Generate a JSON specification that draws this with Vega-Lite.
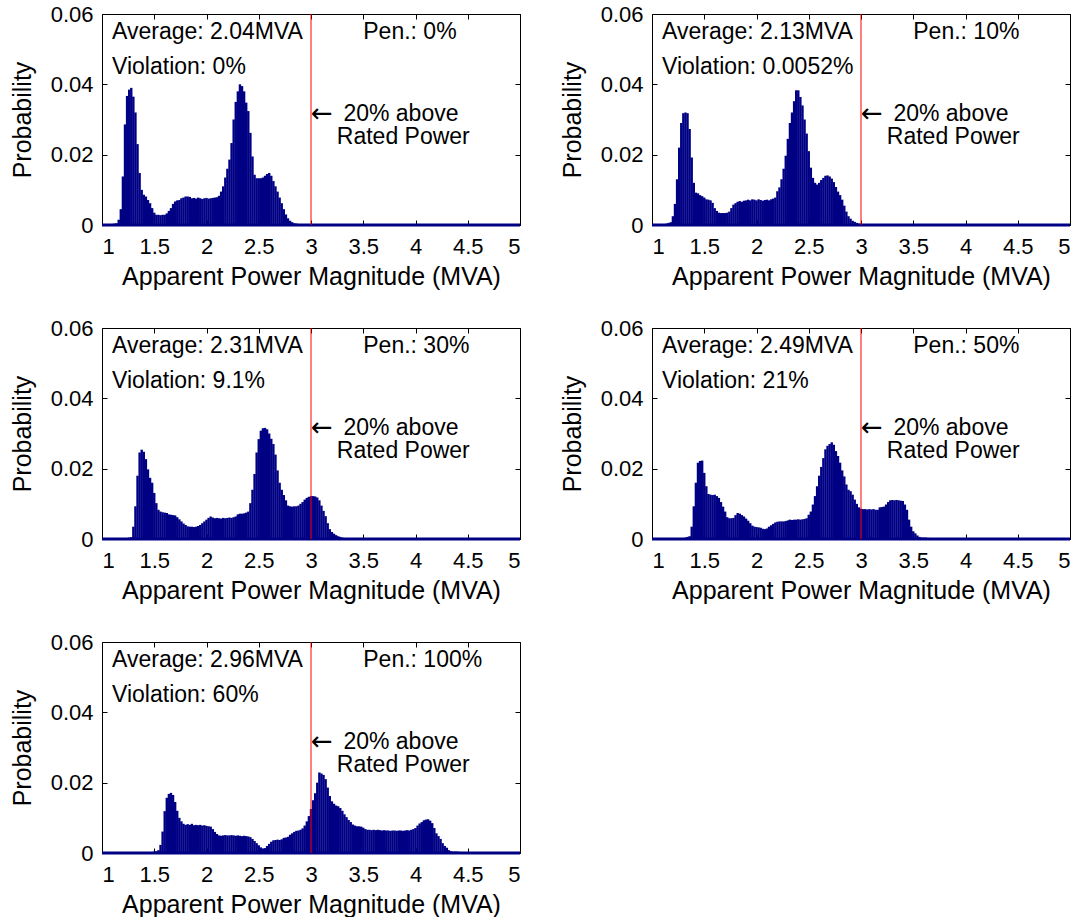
{
"$schema": "https://vega.github.io/schema/vega-lite/v6.json",
"background": "white",
"padding": {"left": 10, "top": 3, "right": 0, "bottom": 0},
"config": {
  "font": "Liberation Sans",
  "view": {"stroke": null},
  "axis": {"grid": false, "labelFontSize": 22, "titleFontSize": 25, "labelColor": "black", "titleColor": "black", "titleFontWeight": "normal", "domainColor": "black", "tickColor": "black", "labelFont": "Liberation Sans", "titleFont": "Liberation Sans"},
  "text": {"font": "Liberation Sans", "fontSize": 23, "color": "black"}
},
"datasets": {
"p0": [{"x":1.10,"p":0.0003},{"x":1.12,"p":0.0004},{"x":1.14,"p":0.0005},{"x":1.16,"p":0.0015},{"x":1.18,"p":0.0045},{"x":1.20,"p":0.0138},{"x":1.22,"p":0.0286},{"x":1.24,"p":0.0367},{"x":1.26,"p":0.0385},{"x":1.28,"p":0.0390},{"x":1.30,"p":0.0365},{"x":1.32,"p":0.0320},{"x":1.34,"p":0.0230},{"x":1.36,"p":0.0148},{"x":1.38,"p":0.0100},{"x":1.40,"p":0.0086},{"x":1.42,"p":0.0081},{"x":1.44,"p":0.0071},{"x":1.46,"p":0.0062},{"x":1.48,"p":0.0048},{"x":1.50,"p":0.0035},{"x":1.52,"p":0.0029},{"x":1.54,"p":0.0029},{"x":1.56,"p":0.0028},{"x":1.58,"p":0.0029},{"x":1.60,"p":0.0029},{"x":1.62,"p":0.0033},{"x":1.64,"p":0.0040},{"x":1.66,"p":0.0048},{"x":1.68,"p":0.0060},{"x":1.70,"p":0.0067},{"x":1.72,"p":0.0070},{"x":1.74,"p":0.0071},{"x":1.76,"p":0.0076},{"x":1.78,"p":0.0078},{"x":1.80,"p":0.0081},{"x":1.82,"p":0.0081},{"x":1.84,"p":0.0080},{"x":1.86,"p":0.0076},{"x":1.88,"p":0.0077},{"x":1.90,"p":0.0075},{"x":1.92,"p":0.0078},{"x":1.94,"p":0.0076},{"x":1.96,"p":0.0074},{"x":1.98,"p":0.0076},{"x":2.00,"p":0.0077},{"x":2.02,"p":0.0075},{"x":2.04,"p":0.0076},{"x":2.06,"p":0.0077},{"x":2.08,"p":0.0078},{"x":2.10,"p":0.0079},{"x":2.12,"p":0.0083},{"x":2.14,"p":0.0095},{"x":2.16,"p":0.0110},{"x":2.18,"p":0.0135},{"x":2.20,"p":0.0160},{"x":2.22,"p":0.0186},{"x":2.24,"p":0.0233},{"x":2.26,"p":0.0300},{"x":2.28,"p":0.0350},{"x":2.30,"p":0.0380},{"x":2.32,"p":0.0400},{"x":2.34,"p":0.0395},{"x":2.36,"p":0.0380},{"x":2.38,"p":0.0348},{"x":2.40,"p":0.0324},{"x":2.42,"p":0.0262},{"x":2.44,"p":0.0195},{"x":2.46,"p":0.0143},{"x":2.48,"p":0.0133},{"x":2.50,"p":0.0133},{"x":2.52,"p":0.0133},{"x":2.54,"p":0.0135},{"x":2.56,"p":0.0140},{"x":2.58,"p":0.0145},{"x":2.60,"p":0.0148},{"x":2.62,"p":0.0140},{"x":2.64,"p":0.0125},{"x":2.66,"p":0.0110},{"x":2.68,"p":0.0095},{"x":2.70,"p":0.0078},{"x":2.72,"p":0.0062},{"x":2.74,"p":0.0045},{"x":2.76,"p":0.0030},{"x":2.78,"p":0.0019},{"x":2.80,"p":0.0012},{"x":2.82,"p":0.0008},{"x":2.84,"p":0.0005},{"x":2.86,"p":0.0004},{"x":2.88,"p":0.0003}],
"p10": [{"x":1.14,"p":0.0004},{"x":1.16,"p":0.0006},{"x":1.18,"p":0.0008},{"x":1.20,"p":0.0025},{"x":1.22,"p":0.0060},{"x":1.24,"p":0.0130},{"x":1.26,"p":0.0220},{"x":1.28,"p":0.0290},{"x":1.30,"p":0.0318},{"x":1.32,"p":0.0320},{"x":1.34,"p":0.0318},{"x":1.36,"p":0.0273},{"x":1.38,"p":0.0192},{"x":1.40,"p":0.0120},{"x":1.42,"p":0.0092},{"x":1.44,"p":0.0090},{"x":1.46,"p":0.0085},{"x":1.48,"p":0.0082},{"x":1.50,"p":0.0078},{"x":1.52,"p":0.0073},{"x":1.54,"p":0.0072},{"x":1.56,"p":0.0070},{"x":1.58,"p":0.0063},{"x":1.60,"p":0.0048},{"x":1.62,"p":0.0040},{"x":1.64,"p":0.0035},{"x":1.66,"p":0.0034},{"x":1.68,"p":0.0034},{"x":1.70,"p":0.0034},{"x":1.72,"p":0.0035},{"x":1.74,"p":0.0038},{"x":1.76,"p":0.0048},{"x":1.78,"p":0.0058},{"x":1.80,"p":0.0062},{"x":1.82,"p":0.0066},{"x":1.84,"p":0.0068},{"x":1.86,"p":0.0066},{"x":1.88,"p":0.0069},{"x":1.90,"p":0.0070},{"x":1.92,"p":0.0072},{"x":1.94,"p":0.0070},{"x":1.96,"p":0.0073},{"x":1.98,"p":0.0072},{"x":2.00,"p":0.0070},{"x":2.02,"p":0.0073},{"x":2.04,"p":0.0071},{"x":2.06,"p":0.0069},{"x":2.08,"p":0.0071},{"x":2.10,"p":0.0072},{"x":2.12,"p":0.0070},{"x":2.14,"p":0.0073},{"x":2.16,"p":0.0075},{"x":2.18,"p":0.0078},{"x":2.20,"p":0.0096},{"x":2.22,"p":0.0107},{"x":2.24,"p":0.0130},{"x":2.26,"p":0.0160},{"x":2.28,"p":0.0197},{"x":2.30,"p":0.0245},{"x":2.32,"p":0.0290},{"x":2.34,"p":0.0320},{"x":2.36,"p":0.0352},{"x":2.38,"p":0.0383},{"x":2.40,"p":0.0383},{"x":2.42,"p":0.0364},{"x":2.44,"p":0.0340},{"x":2.46,"p":0.0300},{"x":2.48,"p":0.0260},{"x":2.50,"p":0.0210},{"x":2.52,"p":0.0163},{"x":2.54,"p":0.0134},{"x":2.56,"p":0.0120},{"x":2.58,"p":0.0115},{"x":2.60,"p":0.0120},{"x":2.62,"p":0.0128},{"x":2.64,"p":0.0134},{"x":2.66,"p":0.0140},{"x":2.68,"p":0.0141},{"x":2.70,"p":0.0138},{"x":2.72,"p":0.0132},{"x":2.74,"p":0.0122},{"x":2.76,"p":0.0108},{"x":2.78,"p":0.0095},{"x":2.80,"p":0.0085},{"x":2.82,"p":0.0072},{"x":2.84,"p":0.0055},{"x":2.86,"p":0.0038},{"x":2.88,"p":0.0025},{"x":2.90,"p":0.0018},{"x":2.92,"p":0.0012},{"x":2.94,"p":0.0009},{"x":2.96,"p":0.0006},{"x":2.98,"p":0.0004},{"x":3.00,"p":0.0003},{"x":3.02,"p":0.0002}],
"p30": [{"x":1.24,"p":0.0003},{"x":1.26,"p":0.0004},{"x":1.28,"p":0.0005},{"x":1.30,"p":0.0035},{"x":1.32,"p":0.0093},{"x":1.34,"p":0.0180},{"x":1.36,"p":0.0246},{"x":1.38,"p":0.0254},{"x":1.40,"p":0.0248},{"x":1.42,"p":0.0227},{"x":1.44,"p":0.0198},{"x":1.46,"p":0.0174},{"x":1.48,"p":0.0160},{"x":1.50,"p":0.0131},{"x":1.52,"p":0.0102},{"x":1.54,"p":0.0083},{"x":1.56,"p":0.0078},{"x":1.58,"p":0.0076},{"x":1.60,"p":0.0075},{"x":1.62,"p":0.0074},{"x":1.64,"p":0.0070},{"x":1.66,"p":0.0069},{"x":1.68,"p":0.0068},{"x":1.70,"p":0.0067},{"x":1.72,"p":0.0062},{"x":1.74,"p":0.0056},{"x":1.76,"p":0.0050},{"x":1.78,"p":0.0044},{"x":1.80,"p":0.0040},{"x":1.82,"p":0.0036},{"x":1.84,"p":0.0035},{"x":1.86,"p":0.0035},{"x":1.88,"p":0.0034},{"x":1.90,"p":0.0035},{"x":1.92,"p":0.0037},{"x":1.94,"p":0.0040},{"x":1.96,"p":0.0045},{"x":1.98,"p":0.0050},{"x":2.00,"p":0.0055},{"x":2.02,"p":0.0060},{"x":2.04,"p":0.0064},{"x":2.06,"p":0.0061},{"x":2.08,"p":0.0059},{"x":2.10,"p":0.0060},{"x":2.12,"p":0.0059},{"x":2.14,"p":0.0058},{"x":2.16,"p":0.0060},{"x":2.18,"p":0.0059},{"x":2.20,"p":0.0060},{"x":2.22,"p":0.0061},{"x":2.24,"p":0.0060},{"x":2.26,"p":0.0062},{"x":2.28,"p":0.0064},{"x":2.30,"p":0.0070},{"x":2.32,"p":0.0072},{"x":2.34,"p":0.0072},{"x":2.36,"p":0.0073},{"x":2.38,"p":0.0075},{"x":2.40,"p":0.0078},{"x":2.42,"p":0.0102},{"x":2.44,"p":0.0140},{"x":2.46,"p":0.0185},{"x":2.48,"p":0.0246},{"x":2.50,"p":0.0284},{"x":2.52,"p":0.0308},{"x":2.54,"p":0.0315},{"x":2.56,"p":0.0316},{"x":2.58,"p":0.0312},{"x":2.60,"p":0.0300},{"x":2.62,"p":0.0285},{"x":2.64,"p":0.0270},{"x":2.66,"p":0.0240},{"x":2.68,"p":0.0195},{"x":2.70,"p":0.0160},{"x":2.72,"p":0.0140},{"x":2.74,"p":0.0125},{"x":2.76,"p":0.0110},{"x":2.78,"p":0.0095},{"x":2.80,"p":0.0093},{"x":2.82,"p":0.0092},{"x":2.84,"p":0.0093},{"x":2.86,"p":0.0093},{"x":2.88,"p":0.0095},{"x":2.90,"p":0.0100},{"x":2.92,"p":0.0105},{"x":2.94,"p":0.0112},{"x":2.96,"p":0.0117},{"x":2.98,"p":0.0120},{"x":3.00,"p":0.0122},{"x":3.02,"p":0.0122},{"x":3.04,"p":0.0121},{"x":3.06,"p":0.0118},{"x":3.08,"p":0.0110},{"x":3.10,"p":0.0095},{"x":3.12,"p":0.0080},{"x":3.14,"p":0.0065},{"x":3.16,"p":0.0045},{"x":3.18,"p":0.0028},{"x":3.20,"p":0.0020},{"x":3.22,"p":0.0015},{"x":3.24,"p":0.0011},{"x":3.26,"p":0.0008},{"x":3.28,"p":0.0006},{"x":3.30,"p":0.0004},{"x":3.32,"p":0.0003}],
"p50": [{"x":1.32,"p":0.0004},{"x":1.34,"p":0.0006},{"x":1.36,"p":0.0008},{"x":1.38,"p":0.0035},{"x":1.40,"p":0.0093},{"x":1.42,"p":0.0160},{"x":1.44,"p":0.0217},{"x":1.46,"p":0.0222},{"x":1.48,"p":0.0223},{"x":1.50,"p":0.0188},{"x":1.52,"p":0.0150},{"x":1.54,"p":0.0128},{"x":1.56,"p":0.0126},{"x":1.58,"p":0.0125},{"x":1.60,"p":0.0126},{"x":1.62,"p":0.0122},{"x":1.64,"p":0.0117},{"x":1.66,"p":0.0105},{"x":1.68,"p":0.0092},{"x":1.70,"p":0.0078},{"x":1.72,"p":0.0062},{"x":1.74,"p":0.0059},{"x":1.76,"p":0.0059},{"x":1.78,"p":0.0060},{"x":1.80,"p":0.0068},{"x":1.82,"p":0.0074},{"x":1.84,"p":0.0072},{"x":1.86,"p":0.0068},{"x":1.88,"p":0.0064},{"x":1.90,"p":0.0058},{"x":1.92,"p":0.0052},{"x":1.94,"p":0.0045},{"x":1.96,"p":0.0038},{"x":1.98,"p":0.0035},{"x":2.00,"p":0.0034},{"x":2.02,"p":0.0033},{"x":2.04,"p":0.0032},{"x":2.06,"p":0.0029},{"x":2.08,"p":0.0028},{"x":2.10,"p":0.0030},{"x":2.12,"p":0.0035},{"x":2.14,"p":0.0039},{"x":2.16,"p":0.0043},{"x":2.18,"p":0.0047},{"x":2.20,"p":0.0049},{"x":2.22,"p":0.0050},{"x":2.24,"p":0.0050},{"x":2.26,"p":0.0050},{"x":2.28,"p":0.0051},{"x":2.30,"p":0.0053},{"x":2.32,"p":0.0055},{"x":2.34,"p":0.0054},{"x":2.36,"p":0.0055},{"x":2.38,"p":0.0055},{"x":2.40,"p":0.0056},{"x":2.42,"p":0.0055},{"x":2.44,"p":0.0056},{"x":2.46,"p":0.0057},{"x":2.48,"p":0.0059},{"x":2.50,"p":0.0069},{"x":2.52,"p":0.0078},{"x":2.54,"p":0.0098},{"x":2.56,"p":0.0122},{"x":2.58,"p":0.0150},{"x":2.60,"p":0.0180},{"x":2.62,"p":0.0205},{"x":2.64,"p":0.0230},{"x":2.66,"p":0.0255},{"x":2.68,"p":0.0265},{"x":2.70,"p":0.0270},{"x":2.72,"p":0.0275},{"x":2.74,"p":0.0268},{"x":2.76,"p":0.0250},{"x":2.78,"p":0.0236},{"x":2.80,"p":0.0217},{"x":2.82,"p":0.0195},{"x":2.84,"p":0.0178},{"x":2.86,"p":0.0155},{"x":2.88,"p":0.0140},{"x":2.90,"p":0.0136},{"x":2.92,"p":0.0126},{"x":2.94,"p":0.0112},{"x":2.96,"p":0.0100},{"x":2.98,"p":0.0090},{"x":3.00,"p":0.0086},{"x":3.02,"p":0.0085},{"x":3.04,"p":0.0085},{"x":3.06,"p":0.0084},{"x":3.08,"p":0.0085},{"x":3.10,"p":0.0084},{"x":3.12,"p":0.0085},{"x":3.14,"p":0.0083},{"x":3.16,"p":0.0083},{"x":3.18,"p":0.0090},{"x":3.20,"p":0.0091},{"x":3.22,"p":0.0092},{"x":3.24,"p":0.0098},{"x":3.26,"p":0.0105},{"x":3.28,"p":0.0110},{"x":3.30,"p":0.0111},{"x":3.32,"p":0.0110},{"x":3.34,"p":0.0111},{"x":3.36,"p":0.0110},{"x":3.38,"p":0.0109},{"x":3.40,"p":0.0108},{"x":3.42,"p":0.0098},{"x":3.44,"p":0.0083},{"x":3.46,"p":0.0055},{"x":3.48,"p":0.0035},{"x":3.50,"p":0.0022},{"x":3.52,"p":0.0016},{"x":3.54,"p":0.0010},{"x":3.56,"p":0.0006},{"x":3.58,"p":0.0004},{"x":3.60,"p":0.0004},{"x":3.62,"p":0.0004},{"x":3.64,"p":0.0003},{"x":3.66,"p":0.0003}],
"p100": [{"x":1.48,"p":0.0003},{"x":1.50,"p":0.0004},{"x":1.52,"p":0.0005},{"x":1.54,"p":0.0008},{"x":1.56,"p":0.0023},{"x":1.58,"p":0.0061},{"x":1.60,"p":0.0119},{"x":1.62,"p":0.0157},{"x":1.64,"p":0.0168},{"x":1.66,"p":0.0171},{"x":1.68,"p":0.0165},{"x":1.70,"p":0.0145},{"x":1.72,"p":0.0120},{"x":1.74,"p":0.0100},{"x":1.76,"p":0.0090},{"x":1.78,"p":0.0083},{"x":1.80,"p":0.0080},{"x":1.82,"p":0.0082},{"x":1.84,"p":0.0080},{"x":1.86,"p":0.0083},{"x":1.88,"p":0.0079},{"x":1.90,"p":0.0080},{"x":1.92,"p":0.0079},{"x":1.94,"p":0.0080},{"x":1.96,"p":0.0078},{"x":1.98,"p":0.0079},{"x":2.00,"p":0.0077},{"x":2.02,"p":0.0076},{"x":2.04,"p":0.0075},{"x":2.06,"p":0.0068},{"x":2.08,"p":0.0060},{"x":2.10,"p":0.0054},{"x":2.12,"p":0.0050},{"x":2.14,"p":0.0049},{"x":2.16,"p":0.0050},{"x":2.18,"p":0.0051},{"x":2.20,"p":0.0050},{"x":2.22,"p":0.0050},{"x":2.24,"p":0.0051},{"x":2.26,"p":0.0050},{"x":2.28,"p":0.0049},{"x":2.30,"p":0.0050},{"x":2.32,"p":0.0049},{"x":2.34,"p":0.0048},{"x":2.36,"p":0.0049},{"x":2.38,"p":0.0048},{"x":2.40,"p":0.0047},{"x":2.42,"p":0.0045},{"x":2.44,"p":0.0040},{"x":2.46,"p":0.0034},{"x":2.48,"p":0.0028},{"x":2.50,"p":0.0022},{"x":2.52,"p":0.0016},{"x":2.54,"p":0.0013},{"x":2.56,"p":0.0014},{"x":2.58,"p":0.0020},{"x":2.60,"p":0.0026},{"x":2.62,"p":0.0032},{"x":2.64,"p":0.0036},{"x":2.66,"p":0.0037},{"x":2.68,"p":0.0038},{"x":2.70,"p":0.0037},{"x":2.72,"p":0.0039},{"x":2.74,"p":0.0043},{"x":2.76,"p":0.0044},{"x":2.78,"p":0.0046},{"x":2.80,"p":0.0052},{"x":2.82,"p":0.0056},{"x":2.84,"p":0.0060},{"x":2.86,"p":0.0063},{"x":2.88,"p":0.0064},{"x":2.90,"p":0.0066},{"x":2.92,"p":0.0070},{"x":2.94,"p":0.0078},{"x":2.96,"p":0.0090},{"x":2.98,"p":0.0105},{"x":3.00,"p":0.0125},{"x":3.02,"p":0.0150},{"x":3.04,"p":0.0170},{"x":3.06,"p":0.0200},{"x":3.08,"p":0.0229},{"x":3.10,"p":0.0226},{"x":3.12,"p":0.0222},{"x":3.14,"p":0.0210},{"x":3.16,"p":0.0186},{"x":3.18,"p":0.0162},{"x":3.20,"p":0.0147},{"x":3.22,"p":0.0140},{"x":3.24,"p":0.0135},{"x":3.26,"p":0.0133},{"x":3.28,"p":0.0128},{"x":3.30,"p":0.0120},{"x":3.32,"p":0.0110},{"x":3.34,"p":0.0102},{"x":3.36,"p":0.0094},{"x":3.38,"p":0.0088},{"x":3.40,"p":0.0081},{"x":3.42,"p":0.0078},{"x":3.44,"p":0.0076},{"x":3.46,"p":0.0076},{"x":3.48,"p":0.0075},{"x":3.50,"p":0.0072},{"x":3.52,"p":0.0068},{"x":3.54,"p":0.0066},{"x":3.56,"p":0.0066},{"x":3.58,"p":0.0065},{"x":3.60,"p":0.0066},{"x":3.62,"p":0.0065},{"x":3.64,"p":0.0066},{"x":3.66,"p":0.0065},{"x":3.68,"p":0.0064},{"x":3.70,"p":0.0065},{"x":3.72,"p":0.0064},{"x":3.74,"p":0.0064},{"x":3.76,"p":0.0063},{"x":3.78,"p":0.0064},{"x":3.80,"p":0.0064},{"x":3.82,"p":0.0063},{"x":3.84,"p":0.0064},{"x":3.86,"p":0.0064},{"x":3.88,"p":0.0063},{"x":3.90,"p":0.0064},{"x":3.92,"p":0.0065},{"x":3.94,"p":0.0064},{"x":3.96,"p":0.0066},{"x":3.98,"p":0.0068},{"x":4.00,"p":0.0071},{"x":4.02,"p":0.0078},{"x":4.04,"p":0.0084},{"x":4.06,"p":0.0088},{"x":4.08,"p":0.0093},{"x":4.10,"p":0.0095},{"x":4.12,"p":0.0096},{"x":4.14,"p":0.0092},{"x":4.16,"p":0.0085},{"x":4.18,"p":0.0071},{"x":4.20,"p":0.0056},{"x":4.22,"p":0.0048},{"x":4.24,"p":0.0040},{"x":4.26,"p":0.0028},{"x":4.28,"p":0.0020},{"x":4.30,"p":0.0015},{"x":4.32,"p":0.0008},{"x":4.34,"p":0.0005},{"x":4.36,"p":0.0004},{"x":4.38,"p":0.0004},{"x":4.40,"p":0.0004},{"x":4.42,"p":0.0003},{"x":4.44,"p":0.0003},{"x":4.46,"p":0.0002}]
},
"columns": 2,
"spacing": {"row": 103, "column": 132},
"bounds": "flush",
"concat": [
{"width": 418, "height": 211, "resolve": {"axis": {"x": "independent", "y": "independent"}}, "layer": [
 {"data": {"name": "p0"}, "mark": {"type": "bar", "color": "#000084", "width": 2.4}, "encoding": {
   "x": {"field": "x", "type": "quantitative", "scale": {"domain": [1, 5], "nice": false, "zero": false, "padding": 0}, "axis": {"orient": "bottom", "values": [1, 1.5, 2, 2.5, 3, 3.5, 4, 4.5, 5], "format": "~g", "tickSize": -5, "labelPadding": 16, "title": "Apparent Power Magnitude (MVA)", "titlePadding": 7}},
   "y": {"field": "p", "type": "quantitative", "scale": {"domain": [0, 0.06], "nice": false}, "axis": {"orient": "left", "values": [0, 0.02, 0.04, 0.06], "format": "~g", "tickSize": -5, "labelPadding": 14, "title": "Probability", "titlePadding": 15}}}},
 {"data": {"values": [{}]}, "mark": {"type": "rule", "color": "#000084", "strokeWidth": 3}, "encoding": {"x": {"datum": 1, "type": "quantitative", "axis": null}, "x2": {"datum": 5}, "y": {"datum": 0, "type": "quantitative", "axis": null}}},
 {"data": {"values": [{}]}, "mark": {"type": "rule", "color": "#ff0000", "strokeWidth": 1}, "encoding": {
   "x": {"datum": 3, "type": "quantitative", "axis": {"orient": "top", "values": [1, 1.5, 2, 2.5, 3, 3.5, 4, 4.5, 5], "labels": false, "tickSize": -5, "title": null}},
   "y": {"datum": 0, "type": "quantitative", "axis": {"orient": "right", "values": [0, 0.02, 0.04, 0.06], "labels": false, "tickSize": -5, "title": null}}, "y2": {"datum": 0.06}}},
 {"data": {"values": [{}]}, "mark": {"type": "text", "align": "left", "baseline": "middle", "text": "Average: 2.04MVA"}, "encoding": {"x": {"datum": 1.096, "type": "quantitative", "axis": null}, "y": {"datum": 0.055, "type": "quantitative", "axis": null}}},
 {"data": {"values": [{}]}, "mark": {"type": "text", "align": "left", "baseline": "middle", "text": "Violation: 0%"}, "encoding": {"x": {"datum": 1.096, "type": "quantitative", "axis": null}, "y": {"datum": 0.045, "type": "quantitative", "axis": null}}},
 {"data": {"values": [{}]}, "mark": {"type": "text", "align": "left", "baseline": "middle", "text": "Pen.: 0%"}, "encoding": {"x": {"datum": 3.5, "type": "quantitative", "axis": null}, "y": {"datum": 0.055, "type": "quantitative", "axis": null}}},
 {"data": {"values": [{}]}, "mark": {"type": "text", "align": "left", "baseline": "middle", "font": "DejaVu Sans", "fontSize": 26, "text": "←"}, "encoding": {"x": {"datum": 3.0, "type": "quantitative", "axis": null}, "y": {"datum": 0.0316, "type": "quantitative", "axis": null}}},
 {"data": {"values": [{}]}, "mark": {"type": "text", "align": "left", "baseline": "middle", "text": "20% above"}, "encoding": {"x": {"datum": 3.31, "type": "quantitative", "axis": null}, "y": {"datum": 0.0316, "type": "quantitative", "axis": null}}},
 {"data": {"values": [{}]}, "mark": {"type": "text", "align": "left", "baseline": "middle", "text": "Rated Power"}, "encoding": {"x": {"datum": 3.247, "type": "quantitative", "axis": null}, "y": {"datum": 0.0249, "type": "quantitative", "axis": null}}}
]},
{"width": 418, "height": 211, "resolve": {"axis": {"x": "independent", "y": "independent"}}, "layer": [
 {"data": {"name": "p10"}, "mark": {"type": "bar", "color": "#000084", "width": 2.4}, "encoding": {
   "x": {"field": "x", "type": "quantitative", "scale": {"domain": [1, 5], "nice": false, "zero": false, "padding": 0}, "axis": {"orient": "bottom", "values": [1, 1.5, 2, 2.5, 3, 3.5, 4, 4.5, 5], "format": "~g", "tickSize": -5, "labelPadding": 16, "title": "Apparent Power Magnitude (MVA)", "titlePadding": 7}},
   "y": {"field": "p", "type": "quantitative", "scale": {"domain": [0, 0.06], "nice": false}, "axis": {"orient": "left", "values": [0, 0.02, 0.04, 0.06], "format": "~g", "tickSize": -5, "labelPadding": 14, "title": "Probability", "titlePadding": 15}}}},
 {"data": {"values": [{}]}, "mark": {"type": "rule", "color": "#000084", "strokeWidth": 3}, "encoding": {"x": {"datum": 1, "type": "quantitative", "axis": null}, "x2": {"datum": 5}, "y": {"datum": 0, "type": "quantitative", "axis": null}}},
 {"data": {"values": [{}]}, "mark": {"type": "rule", "color": "#ff0000", "strokeWidth": 1}, "encoding": {
   "x": {"datum": 3, "type": "quantitative", "axis": {"orient": "top", "values": [1, 1.5, 2, 2.5, 3, 3.5, 4, 4.5, 5], "labels": false, "tickSize": -5, "title": null}},
   "y": {"datum": 0, "type": "quantitative", "axis": {"orient": "right", "values": [0, 0.02, 0.04, 0.06], "labels": false, "tickSize": -5, "title": null}}, "y2": {"datum": 0.06}}},
 {"data": {"values": [{}]}, "mark": {"type": "text", "align": "left", "baseline": "middle", "text": "Average: 2.13MVA"}, "encoding": {"x": {"datum": 1.096, "type": "quantitative", "axis": null}, "y": {"datum": 0.055, "type": "quantitative", "axis": null}}},
 {"data": {"values": [{}]}, "mark": {"type": "text", "align": "left", "baseline": "middle", "text": "Violation: 0.0052%"}, "encoding": {"x": {"datum": 1.096, "type": "quantitative", "axis": null}, "y": {"datum": 0.045, "type": "quantitative", "axis": null}}},
 {"data": {"values": [{}]}, "mark": {"type": "text", "align": "left", "baseline": "middle", "text": "Pen.: 10%"}, "encoding": {"x": {"datum": 3.5, "type": "quantitative", "axis": null}, "y": {"datum": 0.055, "type": "quantitative", "axis": null}}},
 {"data": {"values": [{}]}, "mark": {"type": "text", "align": "left", "baseline": "middle", "font": "DejaVu Sans", "fontSize": 26, "text": "←"}, "encoding": {"x": {"datum": 3.0, "type": "quantitative", "axis": null}, "y": {"datum": 0.0316, "type": "quantitative", "axis": null}}},
 {"data": {"values": [{}]}, "mark": {"type": "text", "align": "left", "baseline": "middle", "text": "20% above"}, "encoding": {"x": {"datum": 3.31, "type": "quantitative", "axis": null}, "y": {"datum": 0.0316, "type": "quantitative", "axis": null}}},
 {"data": {"values": [{}]}, "mark": {"type": "text", "align": "left", "baseline": "middle", "text": "Rated Power"}, "encoding": {"x": {"datum": 3.247, "type": "quantitative", "axis": null}, "y": {"datum": 0.0249, "type": "quantitative", "axis": null}}}
]},
{"width": 418, "height": 211, "resolve": {"axis": {"x": "independent", "y": "independent"}}, "layer": [
 {"data": {"name": "p30"}, "mark": {"type": "bar", "color": "#000084", "width": 2.4}, "encoding": {
   "x": {"field": "x", "type": "quantitative", "scale": {"domain": [1, 5], "nice": false, "zero": false, "padding": 0}, "axis": {"orient": "bottom", "values": [1, 1.5, 2, 2.5, 3, 3.5, 4, 4.5, 5], "format": "~g", "tickSize": -5, "labelPadding": 16, "title": "Apparent Power Magnitude (MVA)", "titlePadding": 7}},
   "y": {"field": "p", "type": "quantitative", "scale": {"domain": [0, 0.06], "nice": false}, "axis": {"orient": "left", "values": [0, 0.02, 0.04, 0.06], "format": "~g", "tickSize": -5, "labelPadding": 14, "title": "Probability", "titlePadding": 15}}}},
 {"data": {"values": [{}]}, "mark": {"type": "rule", "color": "#000084", "strokeWidth": 3}, "encoding": {"x": {"datum": 1, "type": "quantitative", "axis": null}, "x2": {"datum": 5}, "y": {"datum": 0, "type": "quantitative", "axis": null}}},
 {"data": {"values": [{}]}, "mark": {"type": "rule", "color": "#ff0000", "strokeWidth": 1}, "encoding": {
   "x": {"datum": 3, "type": "quantitative", "axis": {"orient": "top", "values": [1, 1.5, 2, 2.5, 3, 3.5, 4, 4.5, 5], "labels": false, "tickSize": -5, "title": null}},
   "y": {"datum": 0, "type": "quantitative", "axis": {"orient": "right", "values": [0, 0.02, 0.04, 0.06], "labels": false, "tickSize": -5, "title": null}}, "y2": {"datum": 0.06}}},
 {"data": {"values": [{}]}, "mark": {"type": "text", "align": "left", "baseline": "middle", "text": "Average: 2.31MVA"}, "encoding": {"x": {"datum": 1.096, "type": "quantitative", "axis": null}, "y": {"datum": 0.055, "type": "quantitative", "axis": null}}},
 {"data": {"values": [{}]}, "mark": {"type": "text", "align": "left", "baseline": "middle", "text": "Violation: 9.1%"}, "encoding": {"x": {"datum": 1.096, "type": "quantitative", "axis": null}, "y": {"datum": 0.045, "type": "quantitative", "axis": null}}},
 {"data": {"values": [{}]}, "mark": {"type": "text", "align": "left", "baseline": "middle", "text": "Pen.: 30%"}, "encoding": {"x": {"datum": 3.5, "type": "quantitative", "axis": null}, "y": {"datum": 0.055, "type": "quantitative", "axis": null}}},
 {"data": {"values": [{}]}, "mark": {"type": "text", "align": "left", "baseline": "middle", "font": "DejaVu Sans", "fontSize": 26, "text": "←"}, "encoding": {"x": {"datum": 3.0, "type": "quantitative", "axis": null}, "y": {"datum": 0.0316, "type": "quantitative", "axis": null}}},
 {"data": {"values": [{}]}, "mark": {"type": "text", "align": "left", "baseline": "middle", "text": "20% above"}, "encoding": {"x": {"datum": 3.31, "type": "quantitative", "axis": null}, "y": {"datum": 0.0316, "type": "quantitative", "axis": null}}},
 {"data": {"values": [{}]}, "mark": {"type": "text", "align": "left", "baseline": "middle", "text": "Rated Power"}, "encoding": {"x": {"datum": 3.247, "type": "quantitative", "axis": null}, "y": {"datum": 0.0249, "type": "quantitative", "axis": null}}}
]},
{"width": 418, "height": 211, "resolve": {"axis": {"x": "independent", "y": "independent"}}, "layer": [
 {"data": {"name": "p50"}, "mark": {"type": "bar", "color": "#000084", "width": 2.4}, "encoding": {
   "x": {"field": "x", "type": "quantitative", "scale": {"domain": [1, 5], "nice": false, "zero": false, "padding": 0}, "axis": {"orient": "bottom", "values": [1, 1.5, 2, 2.5, 3, 3.5, 4, 4.5, 5], "format": "~g", "tickSize": -5, "labelPadding": 16, "title": "Apparent Power Magnitude (MVA)", "titlePadding": 7}},
   "y": {"field": "p", "type": "quantitative", "scale": {"domain": [0, 0.06], "nice": false}, "axis": {"orient": "left", "values": [0, 0.02, 0.04, 0.06], "format": "~g", "tickSize": -5, "labelPadding": 14, "title": "Probability", "titlePadding": 15}}}},
 {"data": {"values": [{}]}, "mark": {"type": "rule", "color": "#000084", "strokeWidth": 3}, "encoding": {"x": {"datum": 1, "type": "quantitative", "axis": null}, "x2": {"datum": 5}, "y": {"datum": 0, "type": "quantitative", "axis": null}}},
 {"data": {"values": [{}]}, "mark": {"type": "rule", "color": "#ff0000", "strokeWidth": 1}, "encoding": {
   "x": {"datum": 3, "type": "quantitative", "axis": {"orient": "top", "values": [1, 1.5, 2, 2.5, 3, 3.5, 4, 4.5, 5], "labels": false, "tickSize": -5, "title": null}},
   "y": {"datum": 0, "type": "quantitative", "axis": {"orient": "right", "values": [0, 0.02, 0.04, 0.06], "labels": false, "tickSize": -5, "title": null}}, "y2": {"datum": 0.06}}},
 {"data": {"values": [{}]}, "mark": {"type": "text", "align": "left", "baseline": "middle", "text": "Average: 2.49MVA"}, "encoding": {"x": {"datum": 1.096, "type": "quantitative", "axis": null}, "y": {"datum": 0.055, "type": "quantitative", "axis": null}}},
 {"data": {"values": [{}]}, "mark": {"type": "text", "align": "left", "baseline": "middle", "text": "Violation: 21%"}, "encoding": {"x": {"datum": 1.096, "type": "quantitative", "axis": null}, "y": {"datum": 0.045, "type": "quantitative", "axis": null}}},
 {"data": {"values": [{}]}, "mark": {"type": "text", "align": "left", "baseline": "middle", "text": "Pen.: 50%"}, "encoding": {"x": {"datum": 3.5, "type": "quantitative", "axis": null}, "y": {"datum": 0.055, "type": "quantitative", "axis": null}}},
 {"data": {"values": [{}]}, "mark": {"type": "text", "align": "left", "baseline": "middle", "font": "DejaVu Sans", "fontSize": 26, "text": "←"}, "encoding": {"x": {"datum": 3.0, "type": "quantitative", "axis": null}, "y": {"datum": 0.0316, "type": "quantitative", "axis": null}}},
 {"data": {"values": [{}]}, "mark": {"type": "text", "align": "left", "baseline": "middle", "text": "20% above"}, "encoding": {"x": {"datum": 3.31, "type": "quantitative", "axis": null}, "y": {"datum": 0.0316, "type": "quantitative", "axis": null}}},
 {"data": {"values": [{}]}, "mark": {"type": "text", "align": "left", "baseline": "middle", "text": "Rated Power"}, "encoding": {"x": {"datum": 3.247, "type": "quantitative", "axis": null}, "y": {"datum": 0.0249, "type": "quantitative", "axis": null}}}
]},
{"width": 418, "height": 211, "resolve": {"axis": {"x": "independent", "y": "independent"}}, "layer": [
 {"data": {"name": "p100"}, "mark": {"type": "bar", "color": "#000084", "width": 2.4}, "encoding": {
   "x": {"field": "x", "type": "quantitative", "scale": {"domain": [1, 5], "nice": false, "zero": false, "padding": 0}, "axis": {"orient": "bottom", "values": [1, 1.5, 2, 2.5, 3, 3.5, 4, 4.5, 5], "format": "~g", "tickSize": -5, "labelPadding": 16, "title": "Apparent Power Magnitude (MVA)", "titlePadding": 7}},
   "y": {"field": "p", "type": "quantitative", "scale": {"domain": [0, 0.06], "nice": false}, "axis": {"orient": "left", "values": [0, 0.02, 0.04, 0.06], "format": "~g", "tickSize": -5, "labelPadding": 14, "title": "Probability", "titlePadding": 15}}}},
 {"data": {"values": [{}]}, "mark": {"type": "rule", "color": "#000084", "strokeWidth": 3}, "encoding": {"x": {"datum": 1, "type": "quantitative", "axis": null}, "x2": {"datum": 5}, "y": {"datum": 0, "type": "quantitative", "axis": null}}},
 {"data": {"values": [{}]}, "mark": {"type": "rule", "color": "#ff0000", "strokeWidth": 1}, "encoding": {
   "x": {"datum": 3, "type": "quantitative", "axis": {"orient": "top", "values": [1, 1.5, 2, 2.5, 3, 3.5, 4, 4.5, 5], "labels": false, "tickSize": -5, "title": null}},
   "y": {"datum": 0, "type": "quantitative", "axis": {"orient": "right", "values": [0, 0.02, 0.04, 0.06], "labels": false, "tickSize": -5, "title": null}}, "y2": {"datum": 0.06}}},
 {"data": {"values": [{}]}, "mark": {"type": "text", "align": "left", "baseline": "middle", "text": "Average: 2.96MVA"}, "encoding": {"x": {"datum": 1.096, "type": "quantitative", "axis": null}, "y": {"datum": 0.055, "type": "quantitative", "axis": null}}},
 {"data": {"values": [{}]}, "mark": {"type": "text", "align": "left", "baseline": "middle", "text": "Violation: 60%"}, "encoding": {"x": {"datum": 1.096, "type": "quantitative", "axis": null}, "y": {"datum": 0.045, "type": "quantitative", "axis": null}}},
 {"data": {"values": [{}]}, "mark": {"type": "text", "align": "left", "baseline": "middle", "text": "Pen.: 100%"}, "encoding": {"x": {"datum": 3.5, "type": "quantitative", "axis": null}, "y": {"datum": 0.055, "type": "quantitative", "axis": null}}},
 {"data": {"values": [{}]}, "mark": {"type": "text", "align": "left", "baseline": "middle", "font": "DejaVu Sans", "fontSize": 26, "text": "←"}, "encoding": {"x": {"datum": 3.0, "type": "quantitative", "axis": null}, "y": {"datum": 0.0316, "type": "quantitative", "axis": null}}},
 {"data": {"values": [{}]}, "mark": {"type": "text", "align": "left", "baseline": "middle", "text": "20% above"}, "encoding": {"x": {"datum": 3.31, "type": "quantitative", "axis": null}, "y": {"datum": 0.0316, "type": "quantitative", "axis": null}}},
 {"data": {"values": [{}]}, "mark": {"type": "text", "align": "left", "baseline": "middle", "text": "Rated Power"}, "encoding": {"x": {"datum": 3.247, "type": "quantitative", "axis": null}, "y": {"datum": 0.0249, "type": "quantitative", "axis": null}}}
]}
]
}
